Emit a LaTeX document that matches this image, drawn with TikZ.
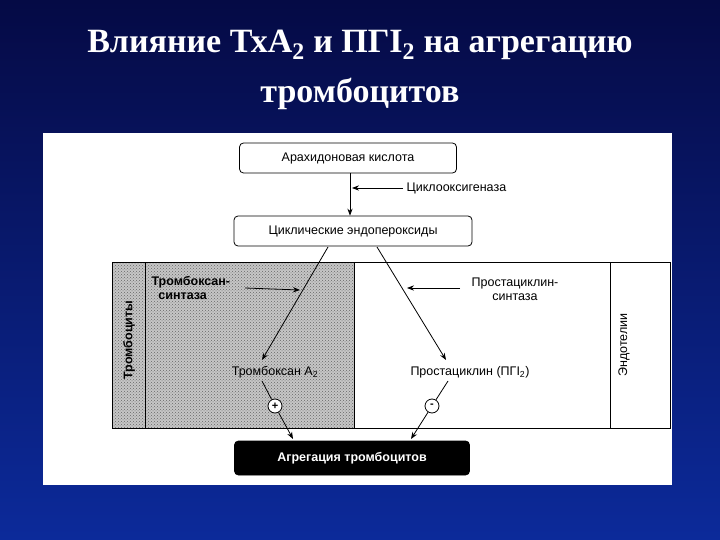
\documentclass[tikz,border=0pt]{standalone}
\usepackage{fontspec}
\setmainfont{Liberation Serif}
\newfontfamily\diag{Liberation Sans}
\usetikzlibrary{arrows.meta,patterns}
\definecolor{bgtop}{HTML}{050A45}
\definecolor{bgbot}{HTML}{0C2A9A}
\begin{document}
\begin{tikzpicture}[x=1pt,y=-1pt,
  box/.style={draw,thick,rounded corners=4pt,fill=white,font=\diag\fontsize{12.5}{14}\selectfont,minimum height=30pt},
  lab/.style={font=\diag\fontsize{12.5}{14}\selectfont,align=center},
  arr/.style={-{Stealth[length=7pt]},thick},
  circ/.style={draw,thick,circle,fill=white,inner sep=0pt,minimum size=14pt,font=\diag\bfseries\fontsize{11}{12}\selectfont}]
\shade[top color=bgtop,bottom color=bgbot] (0,0) rectangle (720,540);
\useasboundingbox (0,0) rectangle (720,540);
\node[white,font=\bfseries\fontsize{34}{50}\selectfont,align=center] (title) at (360,70)
  {Влияние ТхА\textsubscript{2} и ПГI\textsubscript{2} на агрегацию\\тромбоцитов};
\fill[white] (43,133) rectangle (672,485);
\fill[gray!45] (112,262) rectangle (354,428);
\fill[pattern=crosshatch dots,pattern color=gray!80!black] (112,262) rectangle (354,428);
\draw[thick] (112,262) rectangle (670,428);
\draw[thick] (145,262) -- (145,428);
\draw[thick] (354,262) -- (354,428);
\draw[thick] (610,262) -- (610,428);
\node[box,minimum width=217pt] (aa) at (348,158) {Арахидоновая кислота};
\node[box,minimum width=238pt] (ce) at (353,231) {Циклические эндопероксиды};
\node[draw,thick,rounded corners=4pt,fill=black,text=white,minimum width=235pt,minimum height=34pt,font=\diag\bfseries\fontsize{12.5}{14}\selectfont] (ag) at (352,458) {Агрегация тромбоцитов};
\draw[arr] (aa.south -| 350,0) -- (ce.north -| 350,0);
\node[lab,anchor=west] (cox) at (403,188) {Циклооксигеназа};
\draw[arr] (cox.west) -- (352,188);
\node[lab,font=\diag\bfseries\fontsize{12.5}{14}\selectfont,anchor=west,align=left] (txs) at (148,288) {Тромбоксан-\\\ \ синтаза};
\node[lab] (tx) at (275,372) {Тромбоксан А\textsubscript{2}};
\node[lab] (pgs) at (515,289) {Простациклин-\\синтаза};
\node[lab] (pg) at (470,372) {Простациклин (ПГI\textsubscript{2})};
\coordinate (c1) at (328,247);
\coordinate (c2) at (377,247);
\coordinate (t1) at (262,360);
\coordinate (p1) at (446,360);
\draw[arr] (c1) -- (t1);
\draw[arr] (c2) -- (p1);
\draw[arr] (245,288) -- (300,290);
\draw[arr] (460,288) -- (407,288);
\node[circ] (plus) at (275,406) {+};
\node[circ] (minus) at (432,406) {-};
\draw[thick] (262,381) -- (plus);
\draw[thick] (448,381) -- (minus);
\draw[arr] (plus) -- (293,439);
\draw[arr] (minus) -- (411,439);
\node[lab,rotate=90,font=\diag\bfseries\fontsize{12.5}{14}\selectfont] (trc) at (129,340) {Тромбоциты};
\node[lab,rotate=90] (end) at (624,345) {Эндотелии};
\end{tikzpicture}
\end{document}
